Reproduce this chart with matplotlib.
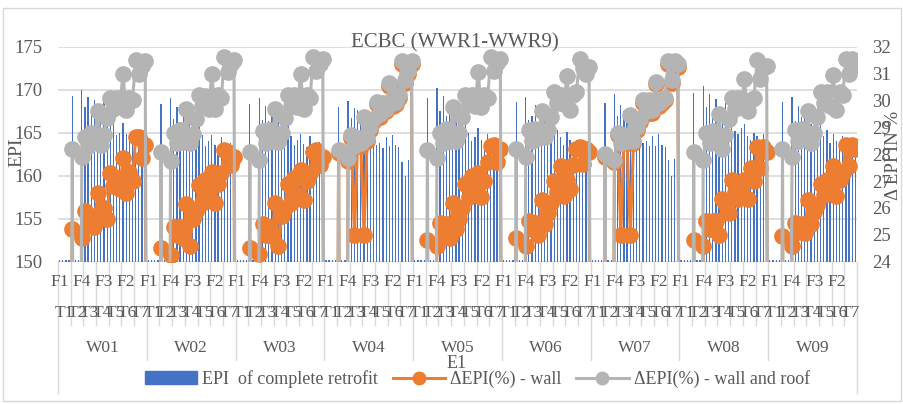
import matplotlib
matplotlib.use('Agg')
import matplotlib.pyplot as plt
import numpy as np
from matplotlib.patches import Rectangle
from matplotlib.lines import Line2D

plt.rcParams['font.family'] = ['Liberation Serif', 'DejaVu Serif']

walls = ['W01', 'W02', 'W03', 'W04', 'W05', 'W06', 'W07', 'W08', 'W09']
t_names = ['T1', 'T2', 'T3', 'T4', 'T5', 'T6', 'T7']
f_names = ['F1', 'F2', 'F3', 'F4']

# EPI of complete retrofit, one row per wall (T1..T7 x F1..F4), 0 = empty cell
epi_complete = [
    [0, 0, 0, 0, 169.3, 0, 0, 170.0, 168.0, 169.1, 167.1, 168.8, 167.5, 168.1, 169.2, 166.8, 167.8, 166.0, 164.7, 165.0, 166.1, 164.8, 164.0, 165.2, 164.3, 163.6, 164.6, 163.8],
    [0, 0, 0, 0, 168.3, 0, 0, 169.0, 166.6, 168.0, 166.3, 167.6, 167.0, 166.2, 168.1, 165.4, 166.5, 164.7, 163.5, 164.0, 164.7, 163.6, 163.2, 164.5, 163.5, 162.6, 163.8, 163.0],
    [0, 0, 0, 0, 168.3, 0, 0, 169.0, 166.5, 168.1, 166.4, 167.7, 166.9, 166.2, 168.0, 165.5, 166.4, 164.6, 163.6, 164.1, 164.8, 163.7, 163.3, 164.6, 163.4, 162.7, 163.9, 163.1],
    [0, 0, 0, 0, 168.0, 0, 0, 168.7, 166.7, 167.9, 167.6, 166.8, 166.1, 165.3, 165.9, 164.7, 163.6, 163.8, 163.2, 164.5, 163.4, 164.7, 163.6, 163.3, 161.6, 160.0, 161.8, 160.1],
    [0, 0, 0, 0, 169.0, 0, 0, 170.2, 167.5, 169.3, 167.0, 168.6, 167.8, 166.5, 168.0, 166.0, 166.8, 165.0, 164.0, 164.5, 165.6, 164.2, 163.5, 164.8, 163.8, 163.0, 164.2, 163.2],
    [0, 0, 0, 0, 168.6, 0, 0, 169.2, 166.5, 166.9, 168.2, 166.3, 166.7, 167.4, 166.8, 165.3, 164.9, 165.3, 164.5, 163.6, 165.1, 164.2, 163.6, 164.2, 163.0, 164.0, 163.4, 163.1],
    [0, 0, 0, 0, 168.5, 0, 0, 169.5, 167.0, 168.2, 167.5, 166.9, 166.3, 165.6, 166.0, 164.9, 163.8, 164.0, 163.4, 164.6, 163.5, 164.8, 163.6, 163.3, 161.8, 160.0, 161.9, 160.2],
    [0, 0, 0, 0, 169.6, 0, 0, 170.4, 168.0, 169.5, 167.5, 168.9, 167.8, 166.8, 168.4, 166.2, 167.0, 165.2, 164.9, 165.6, 166.0, 164.6, 164.2, 165.0, 164.6, 163.6, 164.8, 163.9],
    [0, 0, 0, 0, 168.6, 0, 0, 169.2, 166.4, 168.1, 166.8, 167.6, 166.9, 166.0, 167.5, 165.4, 166.3, 164.6, 165.3, 163.8, 164.9, 164.0, 163.4, 164.6, 163.6, 162.8, 164.0, 163.2],
]

# delta EPI (%) - wall
d_wall = [
    [0, 0, 0, 0, 25.2, 0, 0, 24.9, 25.9, 25.4, 25.7, 25.3, 26.55, 25.9, 26.0, 25.6, 27.3, 26.8, 27.1, 26.7, 27.85, 26.55, 27.35, 27.0, 28.65, 28.65, 27.85, 28.35],
    [0, 0, 0, 0, 24.5, 0, 0, 24.25, 25.3, 25.0, 25.3, 24.9, 26.15, 24.6, 25.6, 25.9, 26.85, 26.2, 27.05, 26.5, 27.35, 26.2, 26.9, 27.3, 28.15, 28.1, 27.6, 27.9],
    [0, 0, 0, 0, 24.5, 0, 0, 24.3, 25.4, 25.0, 25.3, 24.95, 26.2, 24.6, 25.7, 26.0, 26.9, 26.2, 27.1, 26.5, 27.4, 26.3, 27.0, 27.3, 28.1, 28.15, 27.6, 27.9],
    [0, 0, 0, 0, 28.05, 0, 0, 27.75, 28.6, 25.0, 28.5, 28.3, 25.0, 28.5, 28.9, 29.2, 29.85, 29.4, 29.8, 29.6, 30.55, 29.8, 29.85, 30.1, 31.35, 30.65, 31.0, 31.35],
    [0, 0, 0, 0, 24.8, 0, 0, 24.6, 25.45, 25.1, 25.4, 24.9, 26.2, 25.2, 25.6, 26.0, 26.9, 26.4, 27.2, 26.6, 27.3, 26.4, 27.0, 27.7, 28.3, 28.35, 27.7, 28.2],
    [0, 0, 0, 0, 24.9, 0, 0, 24.6, 25.5, 25.2, 25.45, 25.0, 26.3, 25.4, 25.8, 26.2, 27.0, 26.6, 27.55, 26.45, 27.05, 26.7, 27.6, 28.2, 28.25, 27.65, 28.2, 28.1],
    [0, 0, 0, 0, 27.9, 0, 0, 27.7, 28.7, 25.0, 28.6, 28.4, 25.0, 28.4, 28.9, 29.2, 29.9, 29.5, 29.9, 29.55, 30.6, 29.8, 29.9, 30.0, 31.35, 30.65, 31.35, 31.25],
    [0, 0, 0, 0, 24.8, 0, 0, 24.6, 25.5, 25.2, 25.5, 25.5, 25.0, 26.35, 26.2, 25.8, 27.05, 26.6, 26.35, 26.5, 27.05, 26.35, 27.5, 27.0, 28.25, 27.5, 28.25, 28.1],
    [0, 0, 0, 0, 24.95, 0, 0, 24.6, 25.45, 25.1, 25.4, 25.05, 26.3, 25.4, 25.85, 26.1, 26.9, 26.5, 27.05, 26.6, 27.55, 26.45, 27.05, 27.3, 28.35, 27.55, 28.35, 28.2],
]

# delta EPI (%) - wall and roof
d_wall_roof = [
    [0, 0, 0, 0, 28.2, 0, 0, 27.9, 28.65, 28.3, 28.8, 28.5, 29.6, 28.35, 28.7, 29.35, 30.1, 29.7, 30.1, 29.8, 31.0, 29.65, 30.1, 30.0, 31.5, 31.0, 31.3, 31.45],
    [0, 0, 0, 0, 28.1, 0, 0, 27.75, 28.8, 28.4, 28.9, 28.45, 29.7, 28.4, 28.75, 29.3, 30.2, 29.8, 30.15, 29.7, 31.0, 29.7, 30.2, 30.1, 31.6, 31.05, 31.35, 31.5],
    [0, 0, 0, 0, 28.1, 0, 0, 27.8, 28.85, 28.4, 28.9, 28.5, 29.7, 28.45, 28.8, 29.35, 30.2, 29.8, 30.2, 29.75, 31.0, 29.7, 30.2, 30.1, 31.6, 31.1, 31.35, 31.55],
    [0, 0, 0, 0, 28.15, 0, 0, 27.85, 28.7, 28.3, 28.6, 28.4, 29.4, 28.6, 29.0, 29.3, 29.95, 29.5, 29.9, 29.7, 30.65, 29.9, 29.95, 30.2, 31.45, 30.75, 31.1, 31.45],
    [0, 0, 0, 0, 28.15, 0, 0, 27.85, 28.8, 28.4, 28.95, 28.5, 29.75, 28.5, 28.8, 29.4, 30.2, 29.85, 30.2, 29.8, 31.05, 29.75, 30.2, 30.1, 31.6, 31.1, 31.4, 31.55],
    [0, 0, 0, 0, 28.2, 0, 0, 27.9, 28.9, 28.5, 28.95, 28.6, 29.6, 28.65, 28.9, 29.4, 30.3, 29.9, 30.2, 29.85, 30.9, 29.65, 30.2, 30.3, 31.55, 31.2, 31.0, 31.25],
    [0, 0, 0, 0, 28.0, 0, 0, 27.8, 28.8, 28.4, 28.7, 28.5, 29.45, 28.5, 29.0, 29.3, 30.0, 29.6, 30.0, 29.65, 30.7, 29.9, 30.0, 30.1, 31.45, 30.75, 31.45, 31.35],
    [0, 0, 0, 0, 28.1, 0, 0, 27.8, 28.8, 28.4, 28.85, 28.5, 29.5, 28.2, 28.7, 29.3, 30.1, 29.7, 30.1, 29.8, 30.8, 29.6, 30.0, 30.1, 31.5, 30.8, 31.2, 31.3],
    [0, 0, 0, 0, 28.2, 0, 0, 27.9, 28.9, 28.5, 28.95, 28.6, 29.6, 28.4, 28.8, 29.4, 30.3, 29.9, 30.3, 29.8, 30.95, 29.65, 30.3, 30.2, 31.55, 31.0, 31.55, 31.3],
]

txt = '#595959'
grid_c = '#d9d9d9'
blue = '#4472C4'
orange = '#ED7D31'
grey = '#B4B4B4'

n_t = len(t_names)
n_f = len(f_names)
per_w = n_t * n_f
epi = np.array(epi_complete).ravel()
wall = np.array(d_wall).ravel()
roof = np.array(d_wall_roof).ravel()
x = np.arange(len(epi))

fig = plt.figure(figsize=(9.04, 4.04), dpi=100)
ax = fig.add_axes([58 / 904, 1 - 261.7 / 404, (857 - 58) / 904, 215 / 404])

# empty / below-min cells show as a flat sliver on the axis, like excel does
ax.bar(x, np.maximum(epi - 150, 0.25), bottom=150, width=0.4, color=blue, zorder=2)
ax.set_xlim(-0.5, len(x) - 0.5)
ax.set_ylim(150, 175)
ax.set_yticks(range(150, 176, 5))
ax.grid(axis='y', color=grid_c, lw=1.2, zorder=0)
ax.set_axisbelow(True)
for s in ax.spines.values():
    s.set_visible(False)
ax.set_xticks([])
ax.tick_params(axis='y', length=0, labelsize=13.5, labelcolor=txt, pad=11)

ax2 = ax.twinx()
ax2.plot(x, wall, color=orange, lw=2.2, marker='o', ms=11, zorder=3)
ax2.plot(x, roof, color=grey, lw=2.2, marker='o', ms=11, zorder=4)
ax2.set_ylim(24, 32)
ax2.set_yticks(range(24, 33))
for s in ax2.spines.values():
    s.set_visible(False)
ax2.tick_params(axis='y', length=0, labelsize=13.5, labelcolor=txt, pad=11)

# multi-level category axis
tr = ax.get_xaxis_transform()
for i in range(0, len(x), 7):
    ax.text(i, -0.094, f_names[i % n_f], transform=tr, ha='center', va='center',
            fontsize=12.5, color=txt)
for w in range(len(walls)):
    for t in range(n_t):
        ax.text(w * per_w + t * n_f + (n_f - 1) / 2, -0.24, t_names[t], transform=tr,
                ha='center', va='center', fontsize=12.5, color=txt)
        if t > 0:
            xb = w * per_w + t * n_f - 0.5
            ax.plot([xb, xb], [0, -0.295], transform=tr, color=grid_c, lw=1, clip_on=False)
    ax.text(w * per_w + (per_w - 1) / 2, -0.40, walls[w], transform=tr,
            ha='center', va='center', fontsize=12.5, color=txt)
    xb = w * per_w - 0.5
    y_end = -0.61 if w == 0 else -0.457
    ax.plot([xb, xb], [0, y_end], transform=tr, color=grid_c, lw=1, clip_on=False)
ax.plot([len(x) - 0.5] * 2, [0, -0.61], transform=tr, color=grid_c, lw=1, clip_on=False)

fig.text(455 / 904, 1 - 43 / 404, 'ECBC (WWR1-WWR9)', ha='center', va='center',
         fontsize=15, color=txt)
fig.text(17 / 904, 1 - 152 / 404, 'EPI', rotation=90, ha='center', va='center',
         fontsize=14, color=txt)
fig.text(894 / 904, 1 - 155 / 404, 'Δ EPI IN %', rotation=90, ha='center', va='center',
         fontsize=13.5, color=txt)
fig.text(457 / 904, 1 - 363 / 404, 'E1', ha='center', va='center', fontsize=13, color=txt)

handles = [
    Rectangle((0, 0), 1, 1, color=blue),
    Line2D([], [], color=orange, lw=2.2, marker='o', ms=9),
    Line2D([], [], color=grey, lw=2.2, marker='o', ms=9),
]
labels = ['EPI  of complete retrofit', 'ΔEPI(%) - wall', 'ΔEPI(%) - wall and roof']
fig.legend(handles, labels, loc='center', bbox_to_anchor=(0.528, 1 - 379 / 404), ncol=3,
           frameon=False, fontsize=13, labelcolor=txt, handlelength=2.9,
           handletextpad=0.3, columnspacing=0.8)

fig.add_artist(Rectangle((3 / 904, 1 - 401 / 404), 898 / 904, 393 / 404,
                         transform=fig.transFigure, fill=False, edgecolor=grid_c, lw=1))

fig.savefig('out.png', dpi=100)
